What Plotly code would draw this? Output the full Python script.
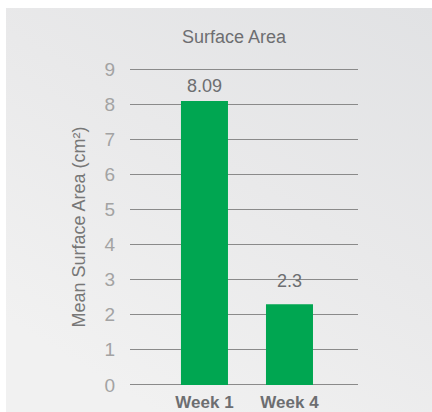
import base64
import plotly.graph_objects as go

categories = ["Week 1", "Week 4"]
values = [8.09, 2.3]
value_labels = ["8.09", "2.3"]
label_shift = [3, 11]
y_ticks = [0, 1, 2, 3, 4, 5, 6, 7, 8, 9]

title_text = "Surface Area"
y_title = "Mean Surface Area (cm²)"

FONT = "Liberation Sans, Arial, sans-serif"

svg = (
    '<svg xmlns="http://www.w3.org/2000/svg" width="426" height="404" preserveAspectRatio="none">'
    '<defs><linearGradient id="g" x1="1" y1="0" x2="0.35" y2="1">'
    '<stop offset="0" stop-color="#e1e2e4"/>'
    '<stop offset="0.5" stop-color="#e9e9ea"/>'
    '<stop offset="1" stop-color="#f1f1f1"/>'
    '</linearGradient></defs>'
    '<rect width="426" height="404" fill="url(#g)"/></svg>'
)
src = "data:image/svg+xml;base64," + base64.b64encode(svg.encode()).decode()

fig = go.Figure()
fig.add_trace(go.Bar(
    x=categories, y=values, marker_color="#00a651", width=0.553,
    marker_line_width=0, hoverinfo="skip",
))

for c, v, t, s in zip(categories, values, value_labels, label_shift):
    fig.add_annotation(x=c, y=v, text=t, showarrow=False, yanchor="bottom",
                       yshift=s, font=dict(family=FONT, size=18, color="#6d6e71"))

W, H = 432, 412
ml, mr, mt, mb = 130, 74, 67, 25

fig.add_layout_image(dict(
    source=src, xref="paper", yref="paper",
    x=(6 - ml) / (W - ml - mr), y=1 + (mt - 8) / (H - mt - mb),
    sizex=(W - 6) / (W - ml - mr), sizey=(H - 8) / (H - mt - mb),
    xanchor="left", yanchor="top", sizing="stretch", layer="below",
))

fig.add_annotation(text=title_text, xref="paper", yref="paper",
                   x=(234 - ml) / (W - ml - mr), y=1 + (mt - 37) / (H - mt - mb),
                   xanchor="center", yanchor="middle", showarrow=False,
                   font=dict(family=FONT, size=18, color="#6d6e71"))

fig.update_layout(
    width=W, height=H,
    margin=dict(l=ml, r=mr, t=mt, b=mb, pad=0, autoexpand=False),
    paper_bgcolor="white", plot_bgcolor="rgba(0,0,0,0)",
    showlegend=False,
    font=dict(family=FONT),
    xaxis=dict(
        type="category", range=[-0.876, 1.806], showgrid=False, zeroline=False,
        showline=False, ticks="", automargin=False,
        tickfont=dict(family=FONT, size=17, color="#6d6e71", weight=600),
        ticklabelstandoff=3, fixedrange=True,
    ),
    yaxis=dict(
        range=[-0.06, 9.06], tickvals=y_ticks, showgrid=True, gridcolor="#8a8a8a", gridwidth=1,
        zeroline=False, showline=False, ticks="", automargin=False,
        tickfont=dict(family=FONT, size=19, color="#a3a3a3"),
        ticklabelstandoff=14,
        title=dict(text=y_title, font=dict(family=FONT, size=18, color="#777777"), standoff=14),
        fixedrange=True,
    ),
)

fig.write_html("out.html")
